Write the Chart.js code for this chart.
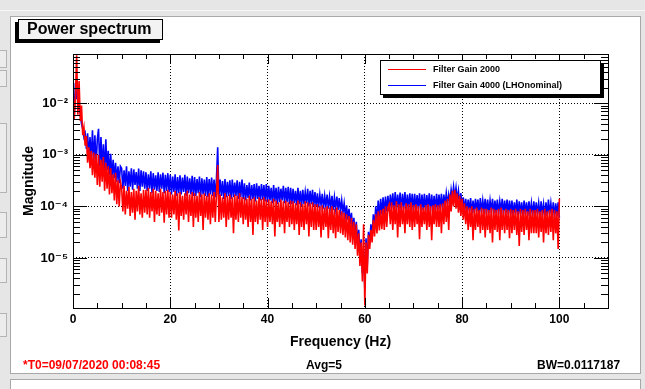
<!DOCTYPE html>
<html><head><meta charset="utf-8">
<script src="https://cdn.jsdelivr.net/npm/chart.js@4.4.1/dist/chart.umd.min.js"></script>
<style>
html,body{margin:0;padding:0;}
body{width:645px;height:389px;background:#e6e6e6;position:relative;overflow:hidden;font-family:"Liberation Sans",Arial,sans-serif;}
.abs{position:absolute;box-sizing:border-box;}
#topline{left:0;top:10px;width:645px;height:1px;background:#f7f7f7;}
#panel{left:10px;top:16px;width:631px;height:358px;background:#fff;border:1px solid #a8a8a8;}
#panel2{left:10px;top:379px;width:631px;height:20px;background:#fff;border:1px solid #a8a8a8;}
.lw{left:-3px;width:10px;background:#ececec;border:1px solid #b4b4b4;}
#chart{left:0;top:0;}
#title{left:18px;top:19px;width:145px;height:21px;border:1px solid #000;background:#f3f3f3;box-shadow:-3px 3px 0 #000;font-weight:bold;font-size:16px;line-height:17px;padding-left:8px;white-space:nowrap;}
#legend{left:380px;top:60px;width:221px;height:35px;border:1px solid #000;background:#fff;box-shadow:3px 3px 0 #000;}
.lline{position:absolute;left:7px;width:38px;height:1px;}
.ltext{position:absolute;left:52px;font-size:9px;font-weight:bold;line-height:11px;white-space:nowrap;}
.foot{top:358px;font-size:12px;font-weight:bold;line-height:14px;white-space:nowrap;}
</style>
</head><body>
<div class="abs" id="topline"></div>
<div class="abs" id="panel"></div>
<div class="abs" id="panel2"></div>
<div class="abs lw" style="top:50px;height:18px"></div>
<div class="abs lw" style="top:70px;height:17px"></div>
<div class="abs lw" style="top:123px;height:70px"></div>
<div class="abs lw" style="top:212px;height:26px"></div>
<div class="abs lw" style="top:258px;height:25px"></div>
<div class="abs lw" style="top:313px;height:24px"></div>
<canvas class="abs" id="chart" width="645" height="389"></canvas>
<div class="abs" id="title">Power spectrum</div>
<div class="abs" id="legend">
  <div class="lline" style="top:8px;background:#ff0000"></div>
  <div class="ltext" style="top:3px">Filter Gain 2000</div>
  <div class="lline" style="top:24px;background:#0000ff"></div>
  <div class="ltext" style="top:19px">Filter Gain 4000 (LHOnominal)</div>
</div>
<div class="abs foot" style="left:23px;color:#ff0000">*T0=09/07/2020 00:08:45</div>
<div class="abs foot" style="left:306px">Avg=5</div>
<div class="abs foot" style="left:537px">BW=0.0117187</div>
<script>
// Frequency bins (Hz), 0.25 Hz resolution from 0 to 100 Hz
const binHz = 0.25;
const freqHz = Array.from({length: 401}, (_, i) => i * binHz);

// Filter Gain 2000 (red) magnitudes
const gain2000 = [
1.6e-2,5e-3,1.4e-2,8.5e-2,6e-3,2.7e-2,4.5e-3,9e-3,2.4e-3,3.4e-3,1.5e-3,2.3e-3,7e-4,1.4e-3,5.5e-4,1.2e-3,4e-4,1.1e-3,3.6e-4,1.05e-3,
2.6e-4,1.0e-3,2.4e-4,8e-4,3e-4,9e-4,2.0e-4,7e-4,2.2e-4,6e-4,1.7e-4,5.5e-4,1.8e-4,4.2e-4,1.3e-4,4.5e-4,1.1e-4,3.2e-4,1.0e-4,3.0e-4,
2.3e-4,8e-5,2.5e-4,7e-5,2.0e-4,9e-5,2.4e-4,6.5e-5,1.9e-4,7.5e-5,2.2e-4,5.5e-5,2.0e-4,8e-5,2.5e-4,7e-5,1.8e-4,6e-5,2.1e-4,7.5e-5,
2.1e-4,7e-5,2.3e-4,6e-5,1.9e-4,8e-5,2.2e-4,5e-5,2.0e-4,7e-5,1.8e-4,6.5e-5,2.2e-4,7.5e-5,1.9e-4,4.8e-5,2.0e-4,7e-5,2.1e-4,6e-5,
1.9e-4,6e-5,1.7e-4,7e-5,2.0e-4,5.5e-5,1.8e-4,3.4e-5,1.9e-4,6.5e-5,1.6e-4,5.5e-5,1.8e-4,7e-5,2.0e-4,5e-5,1.7e-4,6.5e-5,1.9e-4,4e-5,
1.8e-4,6e-5,1.6e-4,5e-5,1.9e-4,6.5e-5,1.7e-4,3.5e-5,1.8e-4,6e-5,1.6e-4,5.5e-5,1.8e-4,4.5e-5,1.7e-4,6e-5,1.9e-4,5e-5,1.7e-4,6.3e-4,
5e-5,1.7e-4,5.5e-5,1.5e-4,6e-5,1.8e-4,4e-5,1.6e-4,5.5e-5,1.7e-4,6e-5,1.5e-4,3e-5,1.7e-4,5.5e-5,1.6e-4,5e-5,1.8e-4,6e-5,1.5e-4,
4.5e-5,1.5e-4,5.5e-5,1.4e-4,4e-5,1.6e-4,5e-5,1.4e-4,2.8e-5,1.5e-4,5e-5,1.3e-4,4.5e-5,1.5e-4,5.5e-5,1.4e-4,3.5e-5,1.5e-4,5e-5,1.35e-4,
4e-5,1.35e-4,5e-5,1.25e-4,4.5e-5,1.4e-4,2.6e-5,1.3e-4,5e-5,1.2e-4,4e-5,1.35e-4,4.5e-5,1.25e-4,3e-5,1.3e-4,5e-5,1.2e-4,4e-5,1.3e-4,
4.5e-5,1.25e-4,3.5e-5,1.15e-4,4.5e-5,1.3e-4,2.8e-5,1.2e-4,4e-5,1.1e-4,3.5e-5,1.25e-4,4.5e-5,1.2e-4,2.6e-5,1.15e-4,4e-5,1.2e-4,3.5e-5,1.1e-4,
3.5e-5,1.1e-4,4e-5,1.0e-4,2.5e-5,1.05e-4,3.5e-5,9.5e-5,4e-5,1.0e-4,2.4e-5,9.5e-5,3.5e-5,1.0e-4,3e-5,9e-5,2.4e-5,9.5e-5,3.2e-5,8.5e-5,
3e-5,8e-5,2.8e-5,7.5e-5,2.5e-5,7e-5,2.2e-5,6.5e-5,2e-5,6e-5,1.8e-5,5e-5,1.5e-5,4.5e-5,1.1e-5,3e-5,7e-6,2e-5,3.5e-6,4.5e-5,
1.2e-6,2e-5,5e-6,2.8e-5,1.5e-5,3.5e-5,2e-5,5.5e-5,2.6e-5,7e-5,3e-5,8e-5,3.4e-5,8.5e-5,3.6e-5,9e-5,3.5e-5,1.0e-4,4e-5,9.5e-5,
1.1e-4,4.5e-5,1.2e-4,3.5e-5,1.05e-4,4.5e-5,1.25e-4,2.5e-5,1.1e-4,4e-5,1.2e-4,4.5e-5,1.0e-4,3e-5,1.15e-4,4.5e-5,1.1e-4,4e-5,1.2e-4,3.5e-5,
1.05e-4,4e-5,1.1e-4,4.5e-5,1.0e-4,2.3e-5,1.1e-4,4e-5,9.5e-5,4.5e-5,1.05e-4,3.5e-5,1.1e-4,4e-5,1.0e-4,2.2e-5,1.05e-4,4.5e-5,1.1e-4,4e-5,
1.05e-4,4e-5,1.1e-4,3e-5,1.15e-4,4.5e-5,1.3e-4,5e-5,1.4e-4,3.5e-5,1.7e-4,8e-5,2.0e-4,1.0e-4,2.1e-4,9e-5,1.8e-4,7.5e-5,1.6e-4,6.5e-5,
1.4e-4,5.5e-5,1.15e-4,4.5e-5,1.0e-4,3.5e-5,9.5e-5,4e-5,1.0e-4,2.2e-5,9e-5,3.5e-5,9.5e-5,4e-5,8.5e-5,3e-5,9.5e-5,3.5e-5,9e-5,2.5e-5,
9e-5,3.5e-5,8.5e-5,3e-5,9.5e-5,2e-5,9e-5,3.5e-5,8.5e-5,3.2e-5,9e-5,2.2e-5,9.5e-5,3.5e-5,8.5e-5,3e-5,9e-5,3.5e-5,8.5e-5,2.4e-5,
9e-5,3e-5,8.5e-5,3.5e-5,9e-5,2.8e-5,8e-5,1.7e-5,9e-5,3.2e-5,8.5e-5,2.8e-5,9e-5,3.5e-5,8e-5,2.2e-5,9e-5,3e-5,8.5e-5,3e-5,
8.5e-5,3e-5,9e-5,2.5e-5,8e-5,3.2e-5,8.5e-5,2e-5,9e-5,3e-5,8e-5,2.8e-5,8.5e-5,3.2e-5,9e-5,2.2e-5,8.5e-5,3e-5,8e-5,1.5e-5,1.4e-4
];

// Filter Gain 4000 (LHOnominal) (blue) magnitudes
const gain4000 = [
2.1e-2,5e-3,2.5e-2,1.2e-2,2.2e-2,8e-3,6.5e-3,4e-3,3.2e-3,2.2e-3,2.6e-3,1.3e-3,2.6e-3,9e-4,2.2e-3,8e-4,3e-3,7e-4,2.4e-3,6e-4,
2.0e-3,3.2e-3,6e-4,2.2e-3,5e-4,1.6e-3,4.5e-4,2.0e-3,5e-4,1.2e-3,4e-4,1.05e-3,3.5e-4,8e-4,3.5e-4,7e-4,3e-4,6e-4,2.8e-4,6e-4,
5.5e-4,2.2e-4,5e-4,2.5e-4,6e-4,2e-4,4.8e-4,2.4e-4,5.5e-4,2.1e-4,5.2e-4,2.6e-4,4.6e-4,2.2e-4,5.4e-4,2e-4,5e-4,2.4e-4,4.8e-4,2.2e-4,
4.6e-4,2e-4,4.2e-4,2.2e-4,4.8e-4,1.8e-4,4.4e-4,2.1e-4,4e-4,2e-4,4.6e-4,1.9e-4,4.2e-4,2.2e-4,4.5e-4,1.8e-4,4.1e-4,2e-4,4.4e-4,1.9e-4,
4.1e-4,1.7e-4,3.8e-4,1.9e-4,4.2e-4,1.6e-4,3.7e-4,1.8e-4,4e-4,1.7e-4,3.6e-4,1.9e-4,4.1e-4,1.6e-4,3.8e-4,1.8e-4,3.5e-4,1.7e-4,3.9e-4,1.6e-4,
3.7e-4,1.6e-4,3.4e-4,1.8e-4,3.8e-4,1.5e-4,3.5e-4,1.7e-4,3.3e-4,1.6e-4,3.7e-4,1.5e-4,3.4e-4,1.7e-4,3.6e-4,1.6e-4,3.3e-4,1.5e-4,3.5e-4,1.4e-3,
1.5e-4,3.3e-4,1.6e-4,3.1e-4,1.4e-4,3.4e-4,1.5e-4,3e-4,1.6e-4,3.2e-4,1.4e-4,3.3e-4,1.5e-4,2.9e-4,1.6e-4,3.2e-4,1.4e-4,3e-4,1.5e-4,3.3e-4,
1.4e-4,2.8e-4,1.3e-4,2.6e-4,1.45e-4,2.9e-4,1.3e-4,2.6e-4,1.4e-4,2.7e-4,1.25e-4,2.8e-4,1.4e-4,2.5e-4,1.3e-4,2.7e-4,1.35e-4,2.6e-4,1.25e-4,2.7e-4,
1.2e-4,2.5e-4,1.3e-4,2.3e-4,1.15e-4,2.6e-4,1.25e-4,2.3e-4,1.1e-4,2.4e-4,1.2e-4,2.2e-4,1.3e-4,2.5e-4,1.15e-4,2.3e-4,1.2e-4,2.4e-4,1.1e-4,2.3e-4,
1.1e-4,2.2e-4,1.15e-4,2.0e-4,1.05e-4,2.3e-4,1.1e-4,2.0e-4,1.0e-4,2.1e-4,1.1e-4,1.9e-4,1.15e-4,2.2e-4,1.0e-4,2.0e-4,1.1e-4,2.1e-4,1.0e-4,1.9e-4,
1.0e-4,1.8e-4,9.5e-5,1.7e-4,1.05e-4,1.75e-4,9e-5,1.6e-4,1.0e-4,1.7e-4,9e-5,1.55e-4,9.5e-5,1.6e-4,8.5e-5,1.5e-4,9e-5,1.55e-4,8.5e-5,1.45e-4,
8e-5,1.3e-4,7.5e-5,1.15e-4,6.5e-5,1.05e-4,5.5e-5,9e-5,4.5e-5,7.5e-5,3.5e-5,6e-5,2.5e-5,5e-5,1.8e-5,3.5e-5,1.1e-5,2.3e-5,5e-6,1.4e-5,
2.5e-6,2.4e-5,7e-6,3.2e-5,1.8e-5,4.5e-5,2.6e-5,7e-5,4e-5,1.0e-4,5e-5,1.3e-4,6e-5,1.4e-4,7e-5,1.5e-4,7e-5,1.55e-4,8e-5,1.6e-4,
8e-5,1.7e-4,9e-5,1.8e-4,8e-5,1.9e-4,8.5e-5,1.7e-4,9e-5,1.85e-4,8e-5,1.75e-4,9e-5,1.9e-4,8e-5,1.7e-4,8.5e-5,1.8e-4,9e-5,1.75e-4,
8e-5,1.75e-4,8.5e-5,1.65e-4,9e-5,1.8e-4,8e-5,1.7e-4,8.5e-5,1.75e-4,8e-5,1.65e-4,9e-5,1.8e-4,8e-5,1.7e-4,8.5e-5,1.6e-4,8e-5,1.75e-4,
8.5e-5,1.7e-4,9e-5,1.75e-4,8.5e-5,1.7e-4,1.0e-4,1.8e-4,1.1e-4,1.7e-4,1.2e-4,2.1e-4,1.4e-4,2.4e-4,1.5e-4,2.3e-4,1.3e-4,2.0e-4,1.1e-4,1.8e-4,
9e-5,1.5e-4,8e-5,1.4e-4,7.5e-5,1.35e-4,8e-5,1.45e-4,7e-5,1.3e-4,7.5e-5,1.4e-4,8e-5,1.35e-4,7e-5,1.45e-4,7.5e-5,1.3e-4,8e-5,1.4e-4,
7e-5,1.35e-4,7.5e-5,1.3e-4,8e-5,1.4e-4,7e-5,1.3e-4,7.5e-5,1.35e-4,7e-5,1.25e-4,8e-5,1.4e-4,7e-5,1.3e-4,7.5e-5,1.35e-4,7e-5,1.3e-4,
7e-5,1.3e-4,6.5e-5,1.2e-4,7e-5,1.35e-4,6.5e-5,1.25e-4,7e-5,1.2e-4,6.5e-5,1.3e-4,7e-5,1.2e-4,6.5e-5,1.25e-4,7e-5,1.15e-4,6.5e-5,1.25e-4,
6.5e-5,1.2e-4,7e-5,1.15e-4,6.5e-5,1.25e-4,7e-5,1.1e-4,6e-5,1.2e-4,6.5e-5,1.35e-4,7e-5,1.15e-4,6.5e-5,1.2e-4,6e-5,1.15e-4,6.5e-5,1.2e-4,6e-5
];

// Axis settings
const xMin = 0, xMax = 110, xStep = 5, xLabelEvery = 20, xLabelMax = 100;
const yMin = 1.07e-6, yMax = 0.09;

const SUP = {'-':'\u207B','0':'\u2070','1':'\u00B9','2':'\u00B2','3':'\u00B3','4':'\u2074','5':'\u2075','6':'\u2076','7':'\u2077','8':'\u2078','9':'\u2079'};
function isDecade(v){ const l = Math.log10(v); return Math.abs(l - Math.round(l)) < 1e-6; }
function supStr(n){ return String(n).split('').map(c => SUP[c]).join(''); }

const FONT = "'Liberation Sans', Arial, 'DejaVu Sans', sans-serif";

const axisDecor = {
  id: 'axisDecor',
  afterDraw(chart) {
    const {ctx, chartArea: a, scales: {x, y}} = chart;
    ctx.save();
    ctx.strokeStyle = '#000';
    ctx.lineWidth = 1;
    ctx.setLineDash([]);
    ctx.beginPath();
    x.ticks.forEach(t => {
      const px = Math.round(x.getPixelForValue(t.value)) + 0.5;
      const len = (t.value % xLabelEvery === 0) ? 10 : 5;
      ctx.moveTo(px, a.bottom); ctx.lineTo(px, a.bottom - len);
      ctx.moveTo(px, a.top); ctx.lineTo(px, a.top + len);
    });
    for (let e = -7; e <= 0; e++) {
      for (let m = 1; m <= 9; m++) {
        const v = m * Math.pow(10, e);
        if (v < y.min || v > y.max) continue;
        const py = Math.round(y.getPixelForValue(v)) + 0.5;
        const len = m === 1 ? 14 : 7;
        ctx.moveTo(a.left, py); ctx.lineTo(a.left + len, py);
        ctx.moveTo(a.right, py); ctx.lineTo(a.right - len, py);
      }
    }
    ctx.stroke();
    ctx.strokeRect(Math.round(a.left) + 0.5, Math.round(a.top) + 0.5,
                   Math.round(a.right - a.left), Math.round(a.bottom - a.top));
    ctx.restore();
  }
};

new Chart(document.getElementById('chart'), {
  type: 'line',
  data: {
    labels: freqHz,
    datasets: [
      {label: 'Filter Gain 2000', data: gain2000, borderColor: '#ff0000', backgroundColor: '#ff0000',
       borderWidth: 1.6, pointRadius: 0, tension: 0, fill: false},
      {label: 'Filter Gain 4000 (LHOnominal)', data: gain4000, borderColor: '#0000ff', backgroundColor: '#0000ff',
       borderWidth: 1.6, pointRadius: 0, tension: 0, fill: false}
    ]
  },
  options: {
    responsive: false,
    animation: false,
    events: [],
    layout: {padding: {left: 21, top: 54, right: 37, bottom: 38}},
    plugins: {legend: {display: false}, tooltip: {enabled: false}, title: {display: false}},
    scales: {
      x: {
        type: 'linear', min: xMin, max: xMax,
        afterFit: s => { s.height = 43; },
        ticks: {
          stepSize: xStep, autoSkip: false, maxRotation: 0, padding: 4, color: '#000',
          font: {family: FONT, size: 12, weight: 'bold'},
          callback: v => (v % xLabelEvery === 0 && v <= xLabelMax) ? String(v) : ''
        },
        grid: {
          drawTicks: false, lineWidth: 1,
          color: c => (c.tick && c.tick.value > xMin && c.tick.value < xMax && c.tick.value % xLabelEvery === 0) ? '#000' : 'rgba(0,0,0,0)'
        },
        border: {display: false, dash: [1, 2]},
        title: {display: true, text: 'Frequency (Hz)', color: '#000', padding: 0,
                font: {family: FONT, size: 14, weight: 'bold'}}
      },
      y: {
        type: 'logarithmic', min: yMin, max: yMax,
        afterFit: s => { s.width = 52; },
        ticks: {
          autoSkip: false, padding: 5, color: '#000',
          font: {family: FONT, size: 13, weight: 'bold'},
          callback: v => isDecade(v) ? '10' + supStr(Math.round(Math.log10(v))) : ''
        },
        grid: {
          drawTicks: false, lineWidth: 1,
          color: c => (c.tick && isDecade(c.tick.value)) ? '#000' : 'rgba(0,0,0,0)'
        },
        border: {display: false, dash: [1, 2]},
        title: {display: true, text: 'Magnitude', color: '#000', padding: 0,
                font: {family: FONT, size: 14, weight: 'bold'}}
      }
    }
  },
  plugins: [axisDecor]
});
</script>
</body></html>
